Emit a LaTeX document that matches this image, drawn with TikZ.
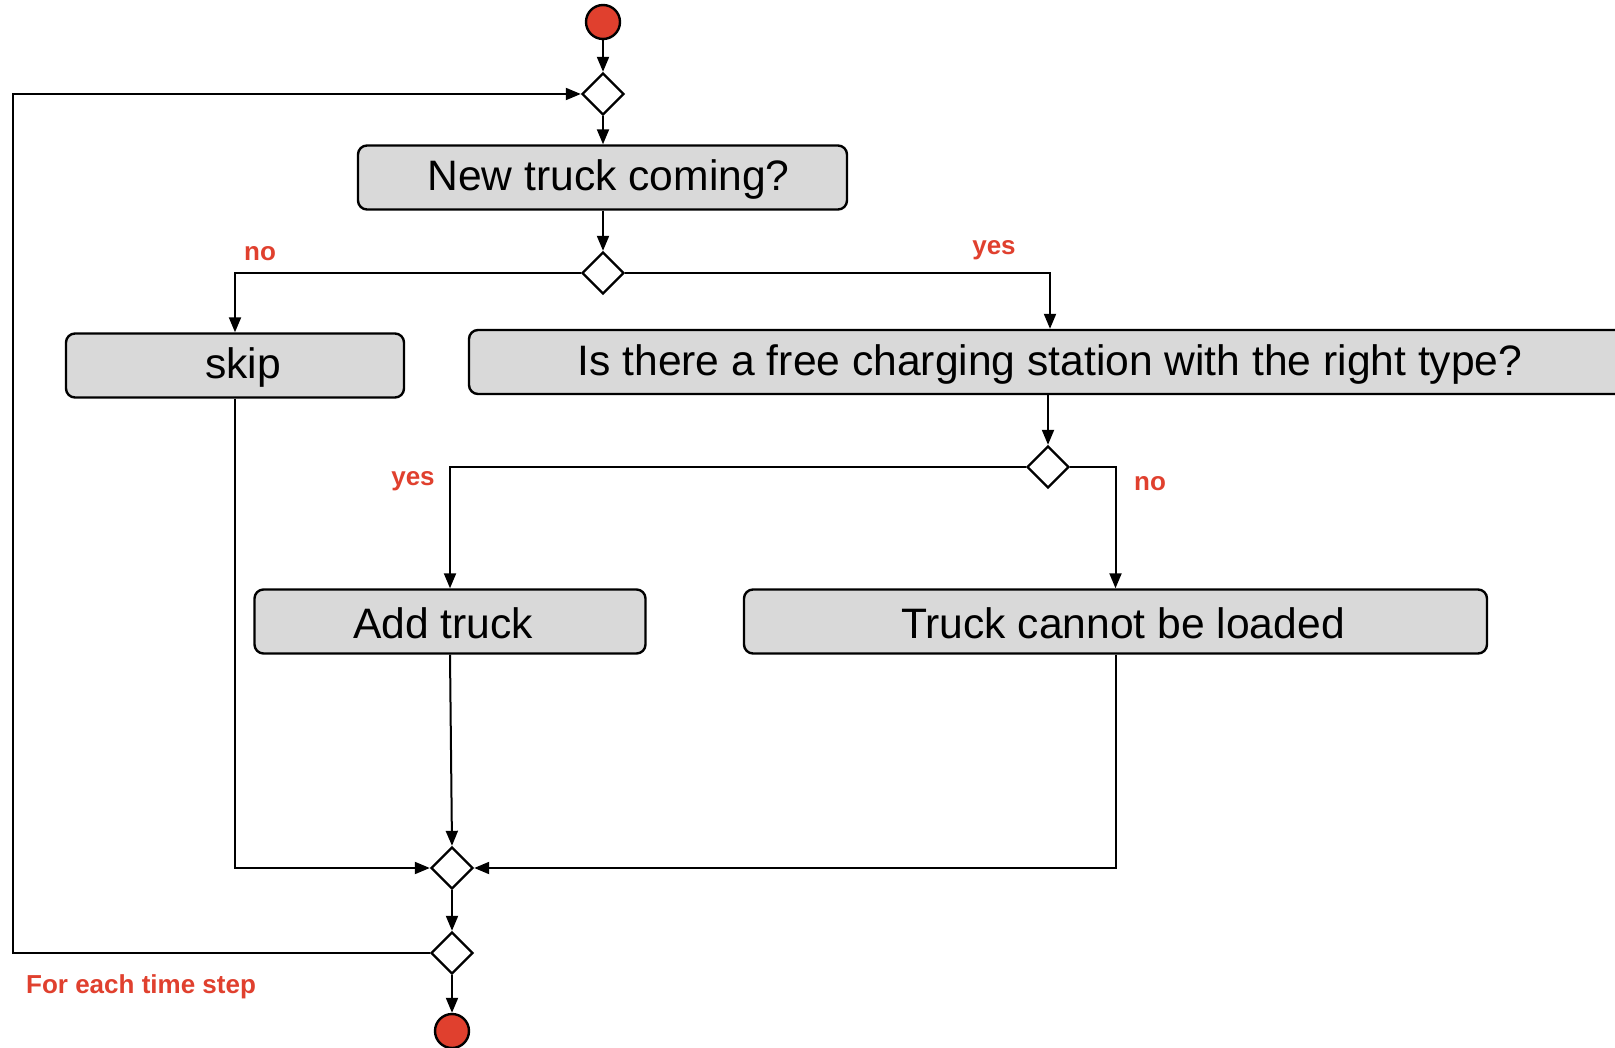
\documentclass[tikz,border=0pt]{standalone}
\usepackage{fontspec}
\setmainfont{Liberation Sans}
\usetikzlibrary{shapes.geometric,arrows.meta}
\definecolor{myred}{RGB}{224,64,46}
\definecolor{boxgray}{RGB}{217,217,217}
\tikzset{
  actbox/.style={draw=black, line width=2.4pt, fill=boxgray, rounded corners=9pt, minimum height=64pt, inner sep=0pt, text height=32pt, text depth=6pt, font=\fontsize{42.6}{48}\selectfont},
  lowtext/.style={text height=36pt, text depth=3pt},
  txtright/.style={execute at begin node={\hspace*{#1}}},
  txtleft/.style={execute at end node={\hspace*{#1}}},
  decis/.style={draw=black, line width=2.4pt, fill=white, diamond, aspect=1, minimum size=42pt, inner sep=0pt},
  terminal/.style={draw=black, line width=2.4pt, fill=myred, circle, minimum size=34pt, inner sep=0pt},
  arr/.style={line width=2pt, -{Triangle[length=15pt,width=12pt]}},
  lbl/.style={text=myred, font=\bfseries\fontsize{26}{30}\selectfont, inner sep=0pt}
}
\begin{document}
\begin{tikzpicture}[x=1pt,y=-1pt]
\clip (0,0) rectangle (1615,1048);
\fill[white] (0,0) rectangle (1615,1048);
\node[terminal] (start) at (603,22) {};
\node[decis] (d1) at (603,94) {};
\node[actbox, minimum width=489pt, txtright=12pt] (b1) at (602.5,177.5) {New truck coming?};
\node[decis] (d2) at (603,273) {};
\node[actbox, minimum width=338pt, txtright=16pt] (skip) at (235,365.5) {skip};
\node[actbox, minimum width=1162pt, text height=33pt, text depth=5pt] (b2) at (1050,362) {Is there a free charging station with the right type?};
\node[decis] (d3) at (1048,467) {};
\node[actbox, lowtext, minimum width=391pt, txtleft=14pt] (add) at (450,621.5) {Add truck};
\node[actbox, lowtext, minimum width=743pt, txtright=15pt] (cant) at (1115.5,621.5) {Truck cannot be loaded};
\node[decis] (d4) at (452,868) {};
\node[decis] (d5) at (452,953) {};
\node[terminal] (end) at (452,1031) {};
\coordinate (loop) at (13,953);

\draw[arr] (start) -- (d1.north);
\draw[arr] (d1.south) -- (b1.north -| d1);
\draw[arr] (b1.south -| d2) -- (d2.north);
\draw[arr] (d2.west) -| (skip.north);
\draw[arr] (d2.east) -| (b2.north);
\draw[arr] (d3.north |- b2.south) -- (d3.north);
\draw[arr] (d3.west) -| (add.north);
\draw[arr] (d3.east) -| (cant.north);
\draw[arr] (add.south) -- (d4.north);
\draw[arr] (skip.south) |- (d4.west);
\draw[arr] (cant.south) |- (d4.east);
\draw[arr] (d4.south) -- (d5.north);
\draw[arr] (d5.south) -- (end.north);
\draw[arr] (d5.west) -- (loop) |- (d1.west);

\node[lbl] (lno1) at (260,253.5) {no};
\node[lbl] (lyes1) at (994,250.5) {yes};
\node[lbl] (lyes2) at (413,481.5) {yes};
\node[lbl] (lno2) at (1150,483.5) {no};
\node[lbl, anchor=west] (lfor) at (26,986.5) {For each time step};
\end{tikzpicture}
\end{document}
